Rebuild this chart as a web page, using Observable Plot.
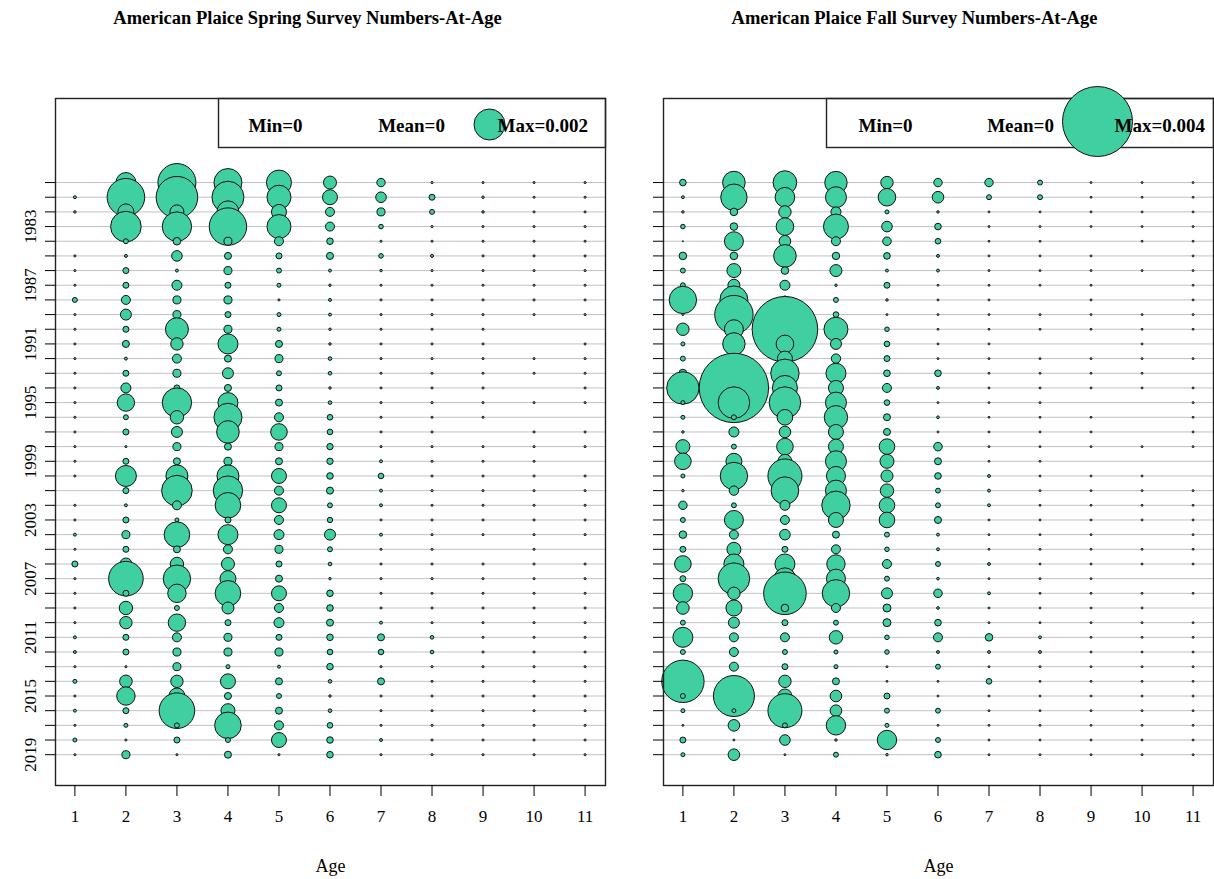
<!DOCTYPE html>
<html>
<head>
<meta charset="utf-8">
<script src="https://cdn.jsdelivr.net/npm/d3@7"></script>
<script src="https://cdn.jsdelivr.net/npm/@observablehq/plot@0.6"></script>
<style>
  body { margin: 0; background: #fff; }
  #wrap { display: flex; width: 1214px; height: 879px; background: #fff; }
  #wrap svg { flex: none; }
</style>
</head>
<body>
<div id="wrap"></div>
<script>
// ---- categories ----
const years = [1980,1981,1982,1983,1984,1985,1986,1987,1988,1989,
               1990,1991,1992,1993,1994,1995,1996,1997,1998,1999,
               2000,2001,2002,2003,2004,2005,2006,2007,2008,2009,
               2010,2011,2012,2013,2014,2015,2016,2017,2018,2019];
const ages = [1,2,3,4,5,6,7,8,9,10,11];
const yearLabels = [1983,1987,1991,1995,1999,2003,2007,2011,2015,2019];

// ---- numbers-at-age (proportion x 1e-6), rows = years, columns = ages 1..11 ----
const springValues = [
  [0,454,1637,889,709,192,80,5,5,5,5],
  [10,1603,1962,1161,653,255,127,41,7,5,5],
  [7,290,222,549,255,92,73,28,7,5,5],
  [0,1062,980,1586,653,92,24,5,5,5,5],
  [0,28,65,73,92,49,5,5,5,5,5],
  [5,10,127,56,41,56,24,10,5,5,5],
  [5,41,10,73,28,10,7,5,5,5,5],
  [5,41,113,41,18,7,5,5,5,5,5],
  [28,92,73,73,5,10,5,5,5,5,5],
  [5,137,73,41,18,10,5,5,5,5,5],
  [5,41,600,73,18,7,5,5,5,0,0],
  [5,56,174,454,56,7,5,5,5,0,5],
  [5,10,92,56,73,15,5,5,5,5,5],
  [5,41,73,137,28,15,5,5,5,5,5],
  [5,113,41,56,41,7,5,5,5,0,5],
  [5,343,980,454,56,15,5,5,5,5,5],
  [5,28,204,889,92,36,5,5,5,0,0],
  [5,41,137,579,312,36,5,5,0,5,5],
  [5,5,73,56,73,46,5,5,5,5,5],
  [5,41,56,73,56,46,10,5,5,5,0],
  [5,500,549,549,255,49,36,5,5,5,5],
  [0,41,1062,980,92,56,10,5,5,5,5],
  [5,10,92,743,255,28,10,5,5,5,5],
  [5,41,18,41,92,33,5,5,5,5,5],
  [10,73,743,454,113,137,10,5,5,5,5],
  [5,41,56,92,73,28,5,5,0,5,0],
  [41,163,204,192,41,15,5,5,5,5,5],
  [5,1357,851,290,56,7,5,5,5,5,5],
  [5,41,384,743,255,49,5,5,5,5,5],
  [5,204,28,163,92,49,5,5,5,5,5],
  [5,174,343,41,113,56,10,5,5,5,5],
  [10,41,92,73,41,49,56,15,5,5,5],
  [10,41,73,73,73,36,36,15,5,5,5],
  [5,5,73,18,10,49,5,5,5,5,5],
  [18,180,174,255,56,15,56,5,5,5,5],
  [5,384,290,56,28,7,5,5,5,5,5],
  [10,41,1437,222,56,15,5,5,5,5,5],
  [5,18,28,802,92,36,5,5,5,5,5],
  [18,5,41,28,255,49,10,5,5,5,5],
  [5,73,5,56,5,49,5,5,5,5,5]
];
const fallValues = [
  [36,417,455,410,126,58,58,20,3,3,3],
  [7,569,314,360,253,110,20,20,3,3,3],
  [5,47,126,82,13,5,3,3,3,3,3],
  [17,47,253,510,92,36,3,3,3,3,3],
  [1,295,110,66,60,26,3,3,0,3,3],
  [47,47,417,45,36,7,3,3,3,0,3],
  [20,160,47,118,7,7,3,3,3,3,3],
  [20,118,82,5,29,3,3,3,3,0,3],
  [613,640,52,20,5,3,3,0,3,0,3],
  [3,1204,82,26,3,3,3,3,3,3,3],
  [126,295,3513,470,17,3,3,3,3,3,3],
  [13,410,253,99,26,3,3,0,0,3,0],
  [20,82,184,72,29,3,3,3,3,3,3],
  [52,118,658,327,36,36,3,3,3,3,0],
  [857,3931,510,184,66,7,3,3,3,3,3],
  [13,815,815,360,26,3,3,3,0,0,3],
  [13,20,199,447,40,6,3,3,3,0,3],
  [5,82,110,184,40,3,3,3,3,0,3],
  [160,20,225,184,199,60,3,3,3,3,3],
  [225,209,160,360,160,40,3,3,0,0,0],
  [13,613,944,295,118,36,7,3,3,3,0],
  [5,72,622,360,147,20,7,3,3,3,3],
  [58,20,82,658,199,20,7,3,3,3,3],
  [20,295,66,184,199,40,3,3,3,3,3],
  [47,66,92,40,20,7,3,3,3,0,3],
  [29,160,29,66,17,7,3,3,3,3,3],
  [225,327,327,276,66,20,7,3,3,3,3],
  [29,815,381,295,20,6,3,3,3,0,0],
  [307,126,1481,613,99,60,7,3,3,3,3],
  [130,209,47,66,52,6,3,3,3,3,0],
  [20,99,29,20,52,36,3,3,3,3,3],
  [327,66,66,147,17,66,47,7,3,3,3],
  [20,66,20,13,17,7,7,7,3,3,3],
  [3,66,29,13,3,20,3,3,3,3,3],
  [1467,52,126,40,3,3,26,3,3,3,3],
  [20,1372,160,110,29,3,3,3,3,3,3],
  [13,13,944,110,20,20,3,3,3,3,3],
  [3,110,20,307,13,3,3,3,3,3,3],
  [29,3,92,5,307,20,3,3,3,3,3],
  [13,110,3,20,5,36,3,3,3,3,3]
];

// ---- texts ----
const springTitle = "American Plaice Spring Survey Numbers-At-Age";
const fallTitle = "American Plaice Fall Survey Numbers-At-Age";
const springLegend = ["Min=0", "Mean=0", "Max=0.002"];
const fallLegend = ["Min=0", "Mean=0", "Max=0.004"];
const springMax = 2000;
const fallMax = 4000;

const FILL = "#40cfa0";
const FONT = "Liberation Serif, Times New Roman, serif";

function panel({title, values, max, rMax, marginLeft, marginRight, titleDx, legend, legendR, legendDy, minDx, meanDx, maxTextDx, showYLabels}) {
  const data = [];
  years.forEach((yr, i) => ages.forEach((a, j) => data.push({year: yr, age: a, value: values[i][j]})));
  return Plot.plot({
    width: 607,
    height: 879,
    marginTop: 98,
    marginBottom: 94,
    marginLeft,
    marginRight,
    style: {fontFamily: FONT, fontSize: "17px", background: "white", color: "black", overflow: "visible"},
    x: {domain: [0.62, 11.4], label: null},
    y: {domain: [2021.1, 1974.27], label: null},
    r: {type: "sqrt", domain: [0, max], range: [0, rMax]},
    marks: [
      Plot.ruleY(years, {stroke: "#c2c2c2", strokeWidth: 1}),
      Plot.dot(data, {x: "age", y: "year", r: "value", fill: FILL, stroke: "#111", strokeWidth: 1, sort: null}),
      Plot.frame({stroke: "#222", strokeWidth: 1.4}),
      Plot.axisX(ages, {tickSize: 11, tickPadding: 13, fontSize: 17, label: null, tickFormat: d => String(d)}),
      Plot.axisY(years, {tickSize: 10, tickFormat: () => "", label: null}),
      showYLabels ? Plot.text(yearLabels, {y: d => d, frameAnchor: "left", dx: -25, rotate: -90, fontSize: 17, textAnchor: "middle", lineAnchor: "middle", text: d => String(d)}) : null,
      Plot.text(["Age"], {frameAnchor: "bottom", dy: 81, fontSize: 18, textAnchor: "middle", lineAnchor: "middle"}),
      Plot.text([title], {frameAnchor: "top", dx: titleDx, dy: -80, fontWeight: "bold", fontSize: 18.5, textAnchor: "middle", lineAnchor: "middle"}),
      Plot.frame({insetLeft: 163, insetBottom: 638, stroke: "#222", strokeWidth: 1.4}),
      Plot.text([legend[0]], {frameAnchor: "top-left", dx: minDx, dy: 27, fontWeight: "bold", fontSize: 19, textAnchor: "middle", lineAnchor: "middle"}),
      Plot.text([legend[1]], {frameAnchor: "top-left", dx: meanDx, dy: 27, fontWeight: "bold", fontSize: 19, textAnchor: "middle", lineAnchor: "middle"}),
      Plot.dot([legend[2]], {frameAnchor: "top-left", dx: 434, dy: legendDy, r: legendR, fill: FILL, stroke: "#111", strokeWidth: 1}),
      Plot.text([legend[2]], {frameAnchor: "top-left", dx: maxTextDx, dy: 27, textAnchor: "start", lineAnchor: "middle", fontWeight: "bold", fontSize: 19})
    ]
  });
}

const wrap = document.getElementById("wrap");
wrap.appendChild(panel({
  title: springTitle, values: springValues, max: springMax, rMax: 21,
  marginLeft: 55, marginRight: 2, titleDx: -23, legend: springLegend,
  legendR: 15.5, legendDy: 26, minDx: 220, meanDx: 356, maxTextDx: 442, showYLabels: true
}));
wrap.appendChild(panel({
  title: fallTitle, values: fallValues, max: fallMax, rMax: 35,
  marginLeft: 56, marginRight: 1, titleDx: -24, legend: fallLegend,
  legendR: 35, legendDy: 23, minDx: 222, meanDx: 357, maxTextDx: 451, showYLabels: false
}));
</script>
</body>
</html>
